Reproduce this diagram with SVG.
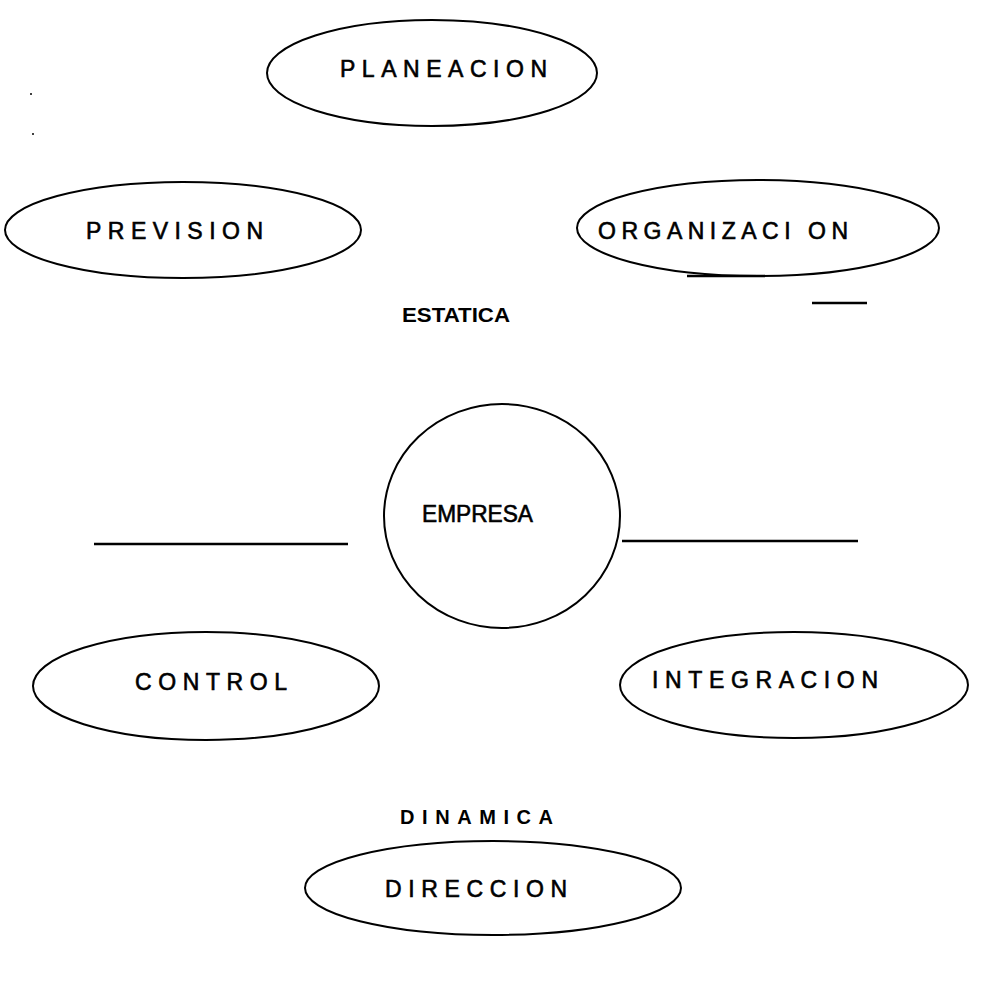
<svg xmlns="http://www.w3.org/2000/svg" width="987" height="998" viewBox="0 0 987 998">
<style>
.n{fill:none;stroke:#000;stroke-width:2}
.t{font-family:"Liberation Sans",Arial,sans-serif;font-size:23px;fill:#000;stroke:#000;stroke-width:0.6}
.b{font-family:"Liberation Sans",Arial,sans-serif;font-size:20px;font-weight:bold;fill:#000}
.c{stroke:#000;stroke-width:2.5;fill:none}
</style>
<rect width="987" height="998" fill="#fff"/>
<g id="planeacion"><ellipse class="n" cx="432" cy="73" rx="165" ry="53"/><text class="t" x="340" y="77" textLength="207" lengthAdjust="spacing">PLANEACION</text></g>
<g id="prevision"><ellipse class="n" cx="183" cy="230" rx="178" ry="48"/><text class="t" x="86" y="239" textLength="177" lengthAdjust="spacing">PREVISION</text></g>
<g id="organizacion"><ellipse class="n" cx="758" cy="228" rx="181" ry="48"/><path d="M687 276 L765 276" stroke="#000" stroke-width="2.5"/><text class="t" x="598" y="239" textLength="250" lengthAdjust="spacing">ORGANIZACI ON</text></g>
<g id="estatica"><text class="b" x="402" y="322" textLength="108" lengthAdjust="spacingAndGlyphs">ESTATICA</text></g>
<g id="empresa"><ellipse class="n" cx="502" cy="516" rx="118" ry="112"/><text class="t" x="422" y="522" textLength="111" lengthAdjust="spacingAndGlyphs">EMPRESA</text></g>
<g id="control"><ellipse class="n" cx="206" cy="686" rx="173" ry="54"/><text class="t" x="135" y="690" textLength="152" lengthAdjust="spacing">CONTROL</text></g>
<g id="integracion"><ellipse class="n" cx="794" cy="685" rx="174" ry="53"/><text class="t" x="652" y="688" textLength="226" lengthAdjust="spacing">INTEGRACION</text></g>
<g id="dinamica"><text class="b" x="400" y="824" textLength="153" lengthAdjust="spacing">DINAMICA</text></g>
<g id="direccion"><ellipse class="n" cx="493" cy="888" rx="188" ry="47"/><text class="t" x="385" y="897" textLength="182" lengthAdjust="spacing">DIRECCION</text></g>
<g id="connectors">
<line class="c" x1="94" y1="544" x2="348" y2="544"/>
<line class="c" x1="622" y1="541" x2="858" y2="541"/>
<line class="c" x1="812" y1="303" x2="867" y2="303"/>
</g>
<circle cx="31" cy="94" r="1" fill="#000"/>
<circle cx="33" cy="134" r="1" fill="#000"/>
</svg>
